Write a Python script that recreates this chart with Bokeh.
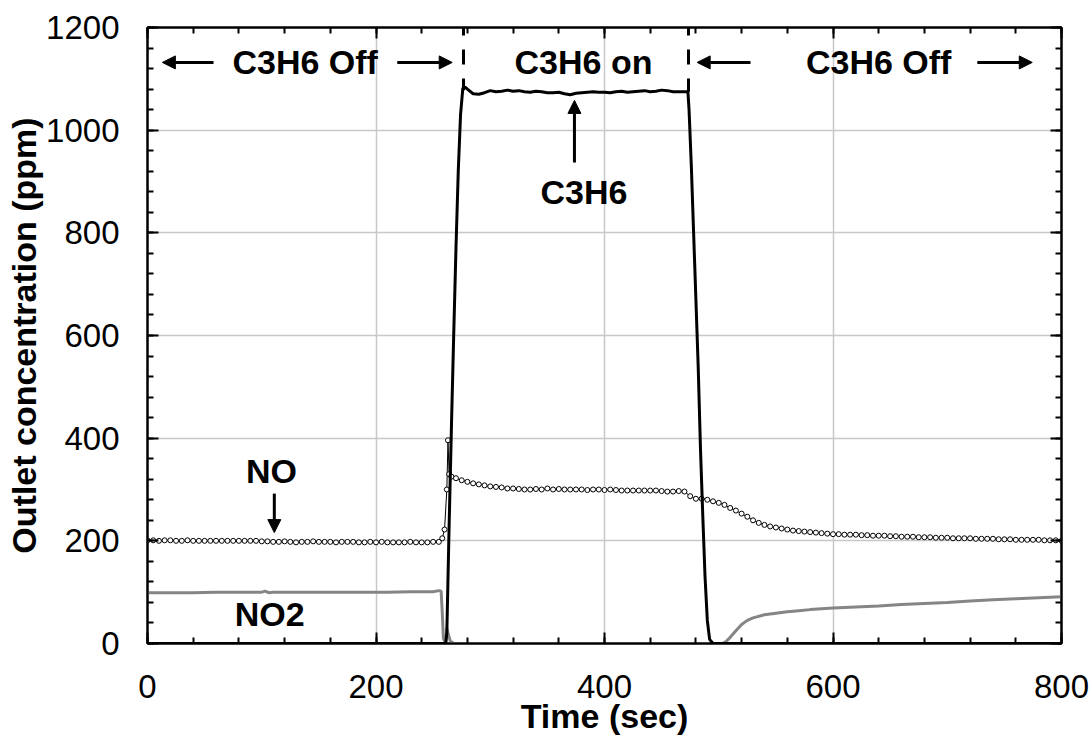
from bokeh.plotting import figure
from bokeh.models import (Range1d, LinearAxis, SingleIntervalTicker, Arrow, NormalHead, Label,
                          CustomLabelingPolicy)
from bokeh.embed import file_html
from bokeh.resources import INLINE

# ---------------- data ----------------
c3h6_t = [0, 261, 262, 264, 266, 268, 270, 272, 274, 276, 278, 280,
          285, 290, 295, 300, 305, 310, 315, 320, 325, 330,
          335, 340, 345, 350, 355, 360, 365, 370, 375, 380,
          385, 390, 395, 400, 405, 410, 415, 420, 425, 430,
          435, 440, 445, 450, 455, 460, 465, 470,
          473, 474, 476, 478, 480, 482, 484, 486, 488, 490, 492, 495, 800]
c3h6_v = [0, 0, 20, 230, 420, 600, 770, 920, 1030, 1082, 1084, 1080,
          1071, 1070, 1073, 1077, 1075, 1076, 1078, 1076, 1077, 1075,
          1074, 1076, 1075, 1073, 1073, 1074, 1071, 1069, 1072, 1073,
          1074, 1075, 1074, 1074, 1073, 1075, 1076, 1074, 1075, 1076,
          1077, 1075, 1076, 1078, 1077, 1075, 1075, 1075,
          1075, 1040, 930, 800, 670, 540, 380, 250, 130, 45, 8, 0, 0]

no_t = list(range(0, 260, 5)) + [258, 260, 262, 263, 264, 266] + list(range(270, 805, 5))
no_v = [201, 201, 200, 201, 201, 200, 200, 201, 200, 200,
        200, 200, 200, 200, 200, 200, 200, 200, 200, 200,
        199, 199, 198, 198, 199, 198, 197, 198, 198, 199,
        198, 198, 198, 197, 198, 198, 198, 197, 197, 198,
        197, 198, 197, 197, 197, 197, 198, 197, 197, 197,
        198, 198,
        205, 222, 300, 396, 330, 325,
        322, 318, 315, 312, 310, 308, 306, 305, 304, 302,
        302, 301, 300, 300, 301, 300, 302, 300, 301, 300,
        300, 300, 300, 299, 300, 300, 299, 300, 299, 298,
        298, 298, 298, 298, 298, 298, 297, 296, 296, 297,
        296, 287, 282, 282, 280, 277, 274, 270, 264, 259,
        253, 247, 240, 235, 231, 228, 226, 224, 222, 220,
        219, 218, 217, 216, 215, 214, 213, 213, 212, 212,
        212, 211, 211, 210, 210, 210, 209, 209, 208, 208,
        208, 207, 207, 207, 206, 206, 206, 205, 205, 205,
        205, 204, 204, 204, 204, 203, 203, 203, 202, 202,
        202, 202, 202, 201, 201, 201, 200]

no2_t = [0, 20, 40, 60, 80, 100, 103, 106, 110, 130, 150, 170, 190, 210, 230, 250,
         255, 257, 258, 259, 261, 262, 263, 265, 268,
         500, 503, 506, 510, 515, 520, 525, 530,
         540, 550, 560, 570, 580, 600, 620, 640, 660, 680, 700, 720, 740, 760, 780, 800]
no2_v = [99, 99, 99, 100, 100, 100, 102, 99, 100, 100, 100, 100, 100, 100, 101, 101,
         103, 102, 60, 10, 0, 30, 20, 5, 0,
         0, 0, 3, 12, 25, 37, 45, 50,
         56, 59, 62, 64, 66, 69, 71, 73, 76, 78, 80, 83, 85, 87, 89, 91]

x_ticks_interval = 200
y_ticks_interval = 200

FONT = "Liberation Sans"

# ---------------- figure ----------------
p = figure(width=1092, height=746, x_range=Range1d(0, 800), y_range=Range1d(0, 1200),
           output_backend="svg", toolbar_location=None,
           min_border_left=147, min_border_right=31, min_border_top=27, min_border_bottom=103)
p.background_fill_color = "white"
p.border_fill_color = "white"
p.outline_line_color = "black"
p.outline_line_width = 2

xt = SingleIntervalTicker(interval=x_ticks_interval, num_minor_ticks=5)
yt = SingleIntervalTicker(interval=y_ticks_interval, num_minor_ticks=5)
p.xaxis.ticker = xt
p.yaxis.ticker = yt
p.xgrid.ticker = xt
p.ygrid.ticker = yt
p.grid.grid_line_color = "#c8c8c8"
p.grid.grid_line_width = 1.5


def style_axis(ax, show_labels):
    ax.major_tick_in = 11
    ax.major_tick_out = 0
    ax.minor_tick_in = 6
    ax.minor_tick_out = 0
    ax.major_tick_line_width = 2
    ax.minor_tick_line_width = 2
    ax.major_tick_line_color = "black"
    ax.minor_tick_line_color = "black"
    ax.axis_line_color = "black"
    ax.axis_line_width = 2
    if show_labels:
        ax.major_label_text_font = FONT
        ax.major_label_text_font_size = "33px"
        ax.major_label_text_color = "black"
        ax.axis_label_text_font = FONT
        ax.axis_label_text_font_size = "34px"
        ax.axis_label_text_font_style = "bold"
        ax.axis_label_text_color = "black"
    else:
        ax.major_label_policy = CustomLabelingPolicy(code="return new Set()")
        ax.major_label_standoff = 0


style_axis(p.xaxis[0], True)
style_axis(p.yaxis[0], True)
p.xaxis.axis_label = "Time (sec)"
p.yaxis.axis_label = "Outlet concentration (ppm)"
p.xaxis.major_label_standoff = 31
p.xaxis.axis_label_standoff = -4
p.yaxis.major_label_standoff = 28
p.yaxis.axis_label_standoff = 0

top_ax = LinearAxis(ticker=SingleIntervalTicker(interval=x_ticks_interval, num_minor_ticks=5))
right_ax = LinearAxis(ticker=SingleIntervalTicker(interval=y_ticks_interval, num_minor_ticks=5))
style_axis(top_ax, False)
style_axis(right_ax, False)
p.add_layout(top_ax, "above")
p.add_layout(right_ax, "right")

# ---------------- series ----------------
p.line(no2_t, no2_v, line_color="#858585", line_width=3)
p.line(no_t, no_v, line_color="black", line_width=1)
p.scatter(no_t, no_v, marker="circle", size=5, line_color="black", fill_color="white", line_width=1)
p.line(c3h6_t, c3h6_v, line_color="black", line_width=3)

# dashed boundaries of the C3H6-on period
p.segment(x0=[276.6, 473.5], y0=[1200, 1200], x1=[276.6, 473.5], y1=[1078, 1075],
          line_color="black", line_width=3, line_dash="15 14", line_dash_offset=7)

# ---------------- annotations ----------------
def label(x, y, text):
    p.add_layout(Label(x=x, y=y, text=text, text_font=FONT, text_font_size="34px",
                       text_font_style="bold", text_color="black",
                       text_align="center", text_baseline="middle"))


def arrow(x0, y0, x1, y1):
    p.add_layout(Arrow(end=NormalHead(size=13, fill_color="black", line_color="black"),
                       x_start=x0, y_start=y0, x_end=x1, y_end=y1,
                       line_color="black", line_width=3))


label(138, 1132, "C3H6 Off")
label(381.6, 1132, "C3H6 on")
label(640, 1132, "C3H6 Off")
arrow(57.8, 1132, 13, 1132)
arrow(218.6, 1132, 266.7, 1132)
arrow(527.8, 1132, 481.1, 1132)
arrow(726.3, 1132, 774.4, 1132)

label(382, 880, "C3H6")
arrow(373.7, 937, 373.7, 1058)

label(108.5, 336, "NO")
arrow(111, 292, 111, 216)
label(107, 57, "NO2")

open("out.html", "w").write(file_html(p, INLINE))
